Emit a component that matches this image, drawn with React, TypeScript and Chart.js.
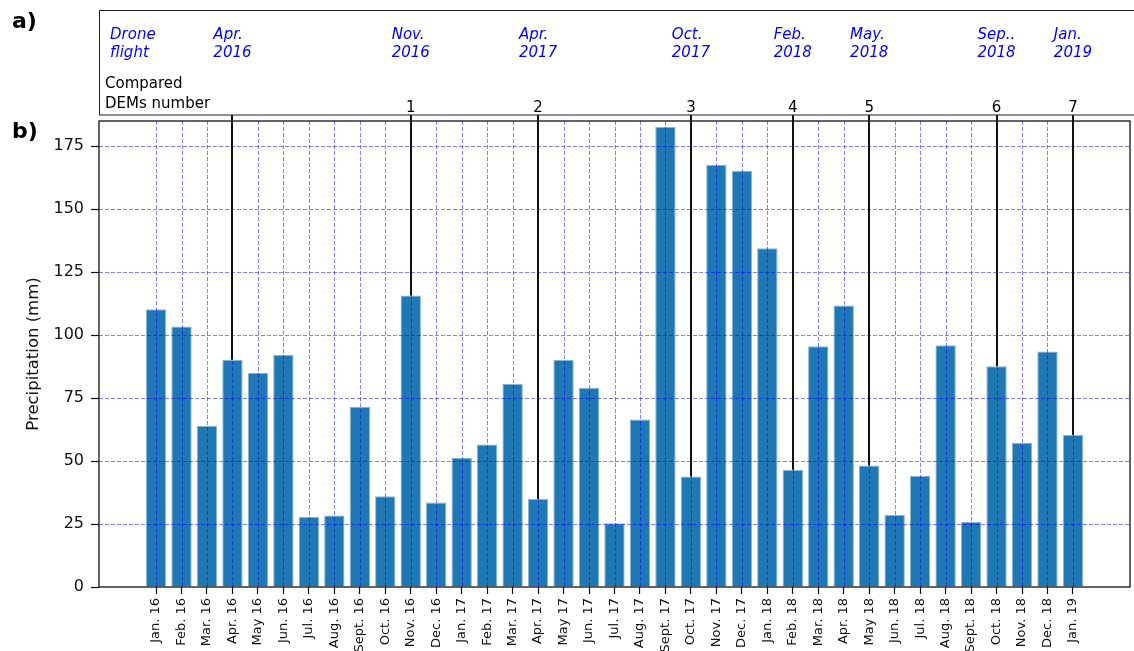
import React, { useEffect, useRef } from 'react';
import { Chart, registerables } from 'chart.js';

Chart.register(...registerables);

const months = [
  'Jan. 16', 'Feb. 16', 'Mar. 16', 'Apr. 16', 'May 16', 'Jun. 16', 'Jul. 16', 'Aug. 16', 'Sept. 16', 'Oct. 16', 'Nov. 16', 'Dec. 16',
  'Jan. 17', 'Feb. 17', 'Mar. 17', 'Apr. 17', 'May 17', 'Jun. 17', 'Jul. 17', 'Aug. 17', 'Sept. 17', 'Oct. 17', 'Nov. 17', 'Dec. 17',
  'Jan. 18', 'Feb. 18', 'Mar. 18', 'Apr. 18', 'May 18', 'Jun. 18', 'Jul. 18', 'Aug. 18', 'Sept. 18', 'Oct. 18', 'Nov. 18', 'Dec. 18',
  'Jan. 19',
];

const precipitation = [
  110.3, 103.4, 64.0, 90.2, 85.1, 92.2, 27.8, 28.4, 71.6, 36.0, 115.7, 33.5,
  51.2, 56.6, 80.7, 34.9, 90.2, 79.1, 25.3, 66.5, 182.6, 43.9, 167.6, 165.2,
  134.5, 46.5, 95.6, 111.8, 48.2, 28.6, 44.2, 96.0, 25.8, 87.6, 57.3, 93.5,
  60.3,
];

const yTicks = [0, 25, 50, 75, 100, 125, 150, 175];

const flightIndex = [3, 10, 15, 21, 25, 28, 33, 36];
const flightLabels = [
  ['Apr.', '2016'], ['Nov.', '2016'], ['Apr.', '2017'], ['Oct.', '2017'],
  ['Feb.', '2018'], ['May.', '2018'], ['Sep..', '2018'], ['Jan.', '2019'],
];
const demNumbers = ['', '1', '2', '3', '4', '5', '6', '7'];

const FONT = '"DejaVu Sans", sans-serif';

const overlayPlugin = {
  id: 'overlay',
  afterDatasetsDraw(chart: any) {
    const { ctx, chartArea: a, scales } = chart;
    const x = scales.x;
    const y = scales.y;
    // grid (drawn above bars)
    ctx.save();
    ctx.beginPath();
    ctx.rect(a.left, a.top, a.right - a.left, a.bottom - a.top);
    ctx.clip();
    ctx.strokeStyle = 'rgba(0,0,255,0.55)';
    ctx.lineWidth = 0.9;
    ctx.setLineDash([4, 2]);
    months.forEach((_, i) => {
      const px = Math.round(x.getPixelForValue(i)) + 0.5;
      ctx.beginPath();
      ctx.moveTo(px, a.top);
      ctx.lineTo(px, a.bottom);
      ctx.stroke();
    });
    yTicks.forEach((v) => {
      const py = Math.round(y.getPixelForValue(v)) + 0.5;
      ctx.beginPath();
      ctx.moveTo(a.left, py);
      ctx.lineTo(a.right, py);
      ctx.stroke();
    });
    ctx.restore();

    // flight vertical lines
    ctx.save();
    ctx.strokeStyle = '#111';
    ctx.lineWidth = 2;
    flightIndex.forEach((idx) => {
      const px = Math.round(x.getPixelForValue(idx));
      const py = y.getPixelForValue(precipitation[idx]);
      ctx.beginPath();
      ctx.moveTo(px, 115);
      ctx.lineTo(px, py);
      ctx.stroke();
    });
    // frame
    ctx.lineWidth = 1.3;
    ctx.strokeStyle = '#111';
    ctx.strokeRect(a.left, a.top, a.right - a.left, a.bottom - a.top);
    ctx.restore();
  },
  afterDraw(chart: any) {
    const { ctx, chartArea: a, scales } = chart;
    const x = scales.x;
    ctx.save();
    // top panel box
    ctx.strokeStyle = '#222';
    ctx.lineWidth = 1;
    ctx.strokeRect(a.left + 0.5, 10.5, 1200, 104.5);

    // panel letters
    ctx.fillStyle = '#000';
    ctx.font = `bold 22px ${FONT}`;
    ctx.textAlign = 'left';
    ctx.textBaseline = 'alphabetic';
    ctx.fillText('a)', 12, 28);
    ctx.fillText('b)', 12, 138);

    // Drone flight label
    ctx.fillStyle = '#0000ff';
    ctx.font = `italic 15px ${FONT}`;
    ctx.fillText('Drone', a.left + 11, 38.5);
    ctx.fillText('flight', a.left + 11, 57);

    flightLabels.forEach((lines, k) => {
      const cx = x.getPixelForValue(flightIndex[k]);
      const w = Math.max(...lines.map((l) => ctx.measureText(l).width));
      const left = cx - w / 2;
      ctx.fillText(lines[0], left, 38.5);
      ctx.fillText(lines[1], left, 57);
    });

    // Compared DEMs number
    ctx.fillStyle = '#000';
    ctx.font = `15px ${FONT}`;
    ctx.fillText('Compared', a.left + 6, 88);
    ctx.fillText('DEMs number', a.left + 6, 108);

    ctx.textAlign = 'center';
    demNumbers.forEach((n, k) => {
      if (!n) return;
      const cx = x.getPixelForValue(flightIndex[k]);
      ctx.fillText(n, cx, 111.5);
    });
    ctx.restore();
  },
};

export default function App() {
  const canvasRef = useRef<HTMLCanvasElement | null>(null);

  useEffect(() => {
    document.body.style.margin = '0';
    const canvas = canvasRef.current;
    if (!canvas) return;
    const chart = new Chart(canvas, {
      type: 'bar',
      data: {
        datasets: [
          {
            data: precipitation.map((v, i) => ({ x: i, y: v })),
            backgroundColor: '#1f77b4',
            borderColor: '#86b6da',
            borderWidth: 1,
            barPercentage: 1,
            categoryPercentage: 0.8,
          },
        ],
      },
      options: {
        responsive: false,
        animation: false,
        devicePixelRatio: 1,
        layout: { padding: { left: 20, right: 4, top: 121, bottom: 0 } },
        plugins: {
          legend: { display: false },
          tooltip: { enabled: false },
        },
        scales: {
          x: {
            type: 'linear',
            min: -2.24,
            max: 38.24,
            offset: false,
            afterBuildTicks: (axis: any) => {
              axis.ticks = months.map((_, i) => ({ value: i }));
            },
            afterFit: (axis: any) => {
              axis.height = 64;
            },
            grid: {
              offset: false,
              drawOnChartArea: false,
              drawTicks: true,
              tickLength: 7,
              tickColor: '#111',
              tickWidth: 1.2,
            },
            border: { display: false },
            ticks: {
              autoSkip: false,
              minRotation: 90,
              maxRotation: 90,
              padding: 4,
              color: '#111',
              font: { family: FONT, size: 13 },
              callback: (v: any) => months[v as number] ?? '',
            },
          },
          y: {
            type: 'linear',
            min: 0,
            max: 185,
            afterBuildTicks: (axis: any) => {
              axis.ticks = yTicks.map((v) => ({ value: v }));
            },
            afterFit: (axis: any) => {
              axis.width = 79;
            },
            grid: {
              drawOnChartArea: false,
              drawTicks: true,
              tickLength: 8,
              tickColor: '#111',
              tickWidth: 1.2,
            },
            border: { display: false },
            ticks: {
              padding: 7,
              color: '#111',
              font: { family: FONT, size: 16 },
            },
            title: {
              display: true,
              text: 'Precipitation (mm)',
              color: '#111',
              font: { family: FONT, size: 16.5 },
              padding: { top: 4, bottom: 4 },
            },
          },
        },
      },
      plugins: [overlayPlugin],
    } as any);
    return () => chart.destroy();
  }, []);

  return (
    <div style={{ width: 1134, height: 651 }}>
      <canvas ref={canvasRef} width={1134} height={651} style={{ display: 'block' }} />
    </div>
  );
}
